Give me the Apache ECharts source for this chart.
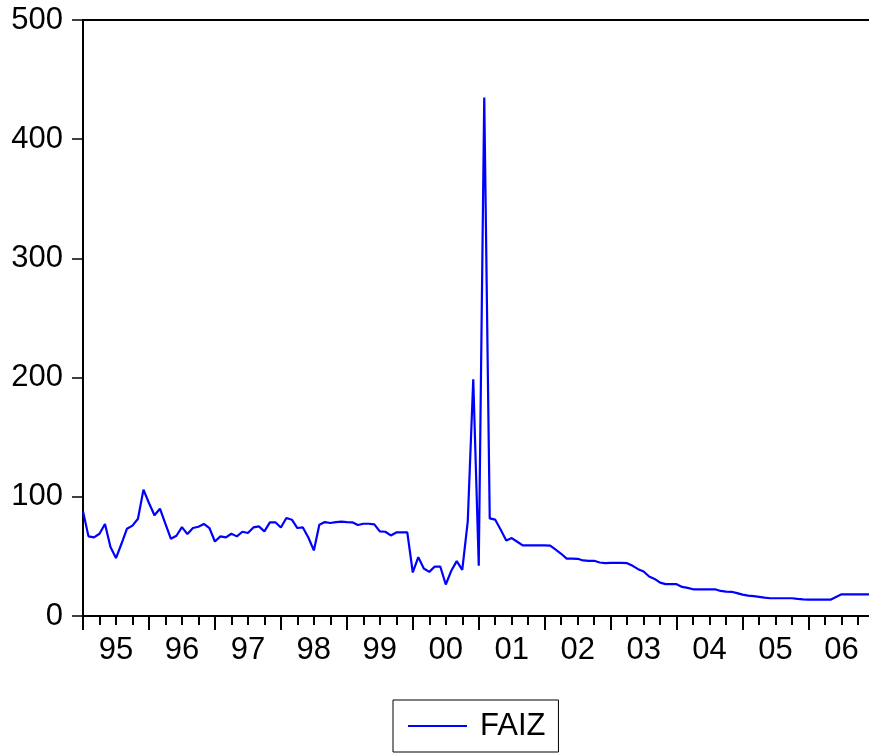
<!DOCTYPE html>
<html>
<head>
<meta charset="utf-8">
<script src="https://cdn.jsdelivr.net/npm/echarts@6/dist/echarts.min.js"></script>
<style>
html,body{margin:0;padding:0;background:#fff;}
#chart{width:869px;height:754px;}
</style>
</head>
<body>
<div id="chart"></div>
<script>
// Monthly periods 1995M01 .. 2006M12
var years = [1995,1996,1997,1998,1999,2000,2001,2002,2003,2004,2005,2006];
var yearLabels = ['95','96','97','98','99','00','01','02','03','04','05','06'];
var yTicks = [0,100,200,300,400,500];

var faiz1995 = [87.8, 66.8, 65.9, 69, 77.2, 57.8, 48.6, 60.6, 73.2, 75.8, 81.6, 106];
var faiz1996 = [94.8, 84.5, 90, 77.2, 64.8, 67.3, 74.6, 68.7, 73.8, 74.9, 77.2, 73.8];
var faiz1997 = [62.5, 66.8, 65.9, 69, 66.8, 70.7, 69.6, 74.3, 75.2, 71, 78.6, 78.6];
var faiz1998 = [74.3, 82.2, 80.8, 73.8, 74.3, 65.9, 55, 76.6, 78.8, 78, 78.8, 79.1];
var faiz1999 = [78.8, 78.6, 76.3, 77.4, 77.4, 76.9, 71, 70.7, 67.6, 70.1, 70.1, 70.1];
var faiz2000 = [36.5, 49.4, 39.8, 37, 41.5, 41.5, 26.4, 37.9, 46, 38.7, 79.4, 198.6];
var faiz2001 = [42.1, 435, 81.9, 80.8, 72.4, 63.4, 65.4, 62.3, 59.2, 59.2, 59.2, 59.2];
var faiz2002 = [59.2, 59, 55.6, 52.2, 48.2, 48.2, 48, 46.6, 46.3, 46.3, 44.9, 44.4];
var faiz2003 = [44.6, 44.6, 44.6, 44.3, 42.1, 39.3, 37.3, 33.1, 31.1, 28, 26.7, 26.7];
var faiz2004 = [26.7, 24.4, 23.6, 22.4, 22.4, 22.4, 22.4, 22.4, 21, 20.5, 20.3, 19.2];
var faiz2005 = [17.9, 17.1, 16.6, 16, 15.4, 14.9, 14.9, 14.9, 14.9, 14.9, 14.4, 14];
var faiz2006 = [13.7, 13.7, 13.7, 13.7, 13.7, 16, 18.2, 18.2, 18.2, 18.2, 18.2, 18.2];

var faiz = [].concat(faiz1995, faiz1996, faiz1997, faiz1998, faiz1999, faiz2000,
  faiz2001, faiz2002, faiz2003, faiz2004, faiz2005, faiz2006);

var months = [];
years.forEach(function (y) {
  for (var m = 1; m <= 12; m++) months.push(y + 'M' + (m < 10 ? '0' + m : m));
});

var FONT = '"Liberation Sans", Arial, sans-serif';
var chart = echarts.init(document.getElementById('chart'), null, {renderer: 'canvas'});
chart.setOption({
  animation: false,
  backgroundColor: '#ffffff',
  grid: {left: 83, top: 20, width: 786.5, height: 596, containLabel: false},
  xAxis: [
    {
      type: 'category', data: months, boundaryGap: false, position: 'bottom',
      axisLine: {show: true, lineStyle: {color: '#000', width: 2}},
      axisTick: {show: true, length: 14, lineStyle: {color: '#000', width: 2},
        interval: function (i) { return i % 12 === 0; }},
      axisLabel: {show: true, color: '#000', fontSize: 31, fontFamily: FONT, margin: 19,
        interval: function (i) { return i % 12 === 6; },
        formatter: function (v, i) { return yearLabels[Math.floor(i / 12)]; }},
      splitLine: {show: false}
    },
    {
      type: 'category', data: months, boundaryGap: false, position: 'bottom',
      axisLine: {show: false},
      axisTick: {show: true, length: 9, lineStyle: {color: '#000', width: 2},
        interval: function (i) { return i % 3 === 0; }},
      axisLabel: {show: false},
      splitLine: {show: false}
    },
    {
      type: 'category', data: months, boundaryGap: false, position: 'top',
      axisLine: {show: true, lineStyle: {color: '#000', width: 2}},
      axisTick: {show: false}, axisLabel: {show: false}, splitLine: {show: false}
    }
  ],
  yAxis: {
    type: 'value', min: yTicks[0], max: yTicks[yTicks.length - 1], interval: 100,
    axisLine: {show: true, lineStyle: {color: '#000', width: 2}},
    axisTick: {show: true, length: 11, lineStyle: {color: '#000', width: 1.5}},
    axisLabel: {color: '#000', fontSize: 31, fontFamily: FONT, margin: 20},
    splitLine: {show: false}
  },
  legend: {
    show: true, left: 393, top: 700,
    padding: [10, 13, 10, 15],
    borderColor: '#000', borderWidth: 1,
    icon: 'rect', itemWidth: 59, itemHeight: 2,
    textStyle: {color: '#000', fontSize: 31, fontFamily: FONT, lineHeight: 32, padding: [0, 0, 0, 8]},
    data: ['FAIZ']
  },
  series: [{
    name: 'FAIZ', type: 'line', data: faiz, xAxisIndex: 0,
    showSymbol: false, symbol: 'none',
    lineStyle: {color: '#0000ff', width: 2.2},
    itemStyle: {color: '#0000ff'}
  }]
});
</script>
</body>
</html>
